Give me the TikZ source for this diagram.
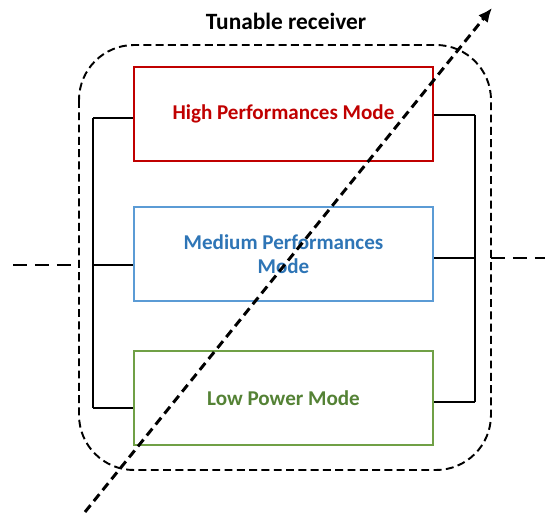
\documentclass[tikz,border=0pt]{standalone}
\usepackage{fontspec}
\setmainfont{Carlito}
\usetikzlibrary{positioning,arrows.meta}
\definecolor{hpred}{RGB}{192,0,0}
\definecolor{mpblue}{RGB}{46,117,182}
\definecolor{mpline}{RGB}{91,155,213}
\definecolor{lpgreen}{RGB}{84,130,53}
\definecolor{lpline}{RGB}{112,160,70}
\begin{document}
\begin{tikzpicture} [x=0.02cm, y=-0.02cm,
  mode/.style={draw, line width=0.9pt, minimum width=5.98cm, minimum height=1.88cm, align=center, font=\fontsize{12}{14}\selectfont\bfseries},
  wire/.style={line width=0.6pt}]
\useasboundingbox (0,0) rectangle (545,514);

\node[font=\fontsize{13.3}{15}\selectfont\bfseries] (title) at (286,21) {Tunable receiver};
\draw[line width=1.1pt, dash pattern=on 4.5pt off 2.5pt, rounded corners=1.1cm] (79,45) rectangle (491,470);

\node[mode, draw=hpred, text=hpred] (high) at (283.5,114) {High Performances Mode};
\node[mode, draw=mpline, text=mpblue] (medium) at (283.5,254) {Medium Performances\\Mode};
\node[mode, draw=lpline, text=lpgreen] (low) at (283.5,398) {Low Power Mode};

% bus lines
\coordinate (lbus1) at (93,118);
\coordinate (lbus2) at (93,265);
\coordinate (lbus3) at (93,408);
\coordinate (rbus1) at (475,115);
\coordinate (rbus2) at (475,258);
\coordinate (rbus3) at (475,402);
\draw[wire] (lbus1) -- (lbus3);
\draw[wire] (lbus1) -- (lbus1 -| high.west);
\draw[wire] (lbus2) -- (lbus2 -| medium.west);
\draw[wire] (lbus3) -- (lbus3 -| low.west);
\draw[wire] (rbus1) -- (rbus3);
\draw[wire] (rbus1) -- (rbus1 -| high.east);
\draw[wire] (rbus2) -- (rbus2 -| medium.east);
\draw[wire] (rbus3) -- (rbus3 -| low.east);

% input and output
\coordinate (in) at (13,265);
\coordinate (inend) at (76,265);
\coordinate (outstart) at (491,258);
\coordinate (out) at (545,258);
\draw[line width=1.7pt, dash pattern=on 8pt off 4.5pt] (in) -- (inend);
\draw[line width=1.7pt, dash pattern=on 8pt off 4.5pt] (outstart) -- (out);

% tuning arrow
\coordinate (tunestart) at (85,512);
\coordinate (tuneend) at (492,8);
\draw[-{Latex[length=8pt,width=7pt]}, line width=1.7pt, dash pattern=on 5pt off 3pt] (tunestart) -- (tuneend);
\end{tikzpicture}
\end{document}
